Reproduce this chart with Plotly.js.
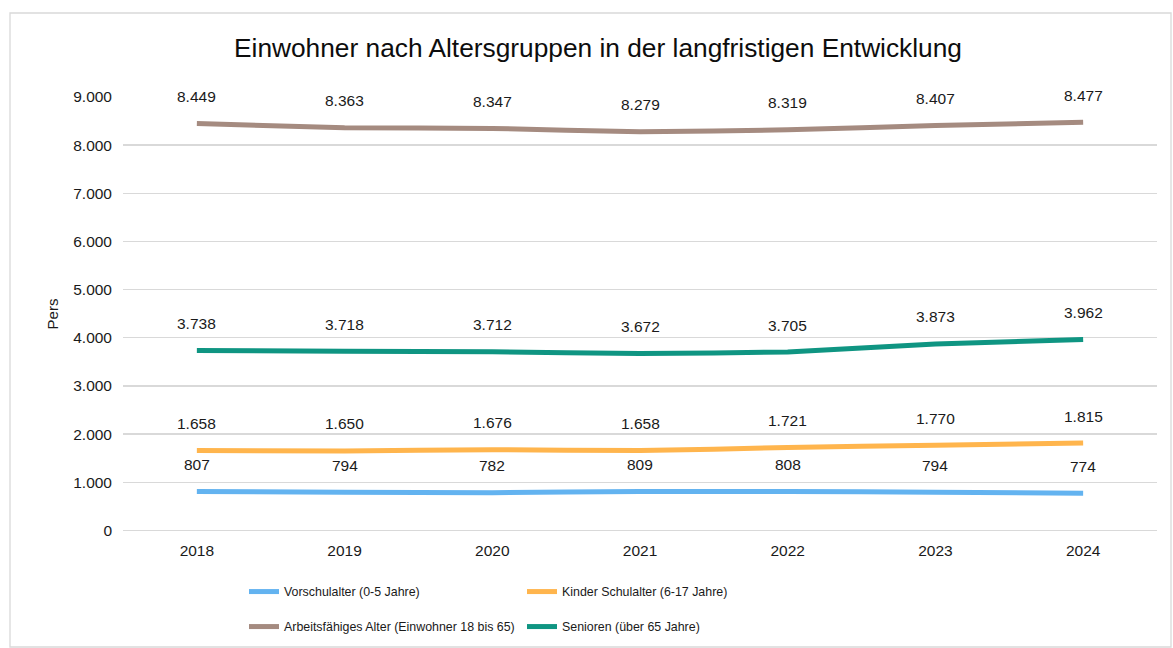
<!DOCTYPE html>
<html>
<head>
<meta charset="utf-8">
<script src="https://cdn.plot.ly/plotly-3.0.1.min.js"></script>
<style>html,body{margin:0;padding:0;background:#fff;}#chart{width:1173px;height:648px;}</style>
</head>
<body>
<div id="chart"></div>
<script>
const years = ['2018', '2019', '2020', '2021', '2022', '2023', '2024'];
const vorschulalter = [807, 794, 782, 809, 808, 794, 774];
const kinderSchulalter = [1658, 1650, 1676, 1658, 1721, 1770, 1815];
const arbeitsfaehig = [8449, 8363, 8347, 8279, 8319, 8407, 8477];
const senioren = [3738, 3718, 3712, 3672, 3705, 3873, 3962];
const seriesNames = ['Vorschulalter (0-5 Jahre)', 'Kinder Schulalter (6-17 Jahre)', 'Arbeitsfähiges Alter (Einwohner 18 bis 65)', 'Senioren (über 65 Jahre)'];
const yTicks = [0, 1000, 2000, 3000, 4000, 5000, 6000, 7000, 8000, 9000];

const colors = ['#63b3f0', '#ffb54d', '#a58b80', '#0f9582'];
const seriesData = [vorschulalter, kinderSchulalter, arbeitsfaehig, senioren];
const legendIds = ['legend', 'legend', 'legend2', 'legend2'];
const FONT = 'Liberation Sans, Arial, sans-serif';

function fmt(v) { return String(v).replace(/\B(?=(\d{3})+(?!\d))/g, '.'); }

const traces = seriesData.map((d, i) => ({
  type: 'scatter', mode: 'lines', x: years, y: d, name: seriesNames[i],
  line: {color: colors[i], width: 5, shape: 'spline', smoothing: 0.4},
  legend: legendIds[i], hoverinfo: 'x+y+name'
}));

const annotations = [];
seriesData.forEach(d => {
  d.forEach((v, j) => {
    annotations.push({x: j, y: v, xref: 'x', yref: 'y', text: fmt(v), showarrow: false,
      yshift: 27, font: {family: FONT, size: 15.5, color: '#1a1a1a'}});
  });
});

const W = 1173, H = 648, L = 123, R = 16, T = 97, B = 117;
const pw = W - L - R, ph = H - T - B;
const px = x => (x - L) / pw;
const py = y => (H - B - y) / ph;

const legendCommon = {orientation: 'h', xref: 'container', yref: 'container', xanchor: 'left', yanchor: 'middle',
  entrywidth: 233, entrywidthmode: 'pixels', font: {family: FONT, size: 12.4, color: '#1a1a1a'},
  bgcolor: 'rgba(0,0,0,0)', tracegroupgap: 0};

const layout = {
  width: W, height: H,
  margin: {l: L, r: R, t: T, b: B},
  paper_bgcolor: '#ffffff', plot_bgcolor: '#ffffff',
  separators: ',.',
  font: {family: FONT, size: 15, color: '#1a1a1a'},
  title: {text: 'Einwohner nach Altersgruppen in der langfristigen Entwicklung',
    font: {family: FONT, size: 26.3, color: '#0d0d0d'}, x: 598 / W, xref: 'container', xanchor: 'center', y: 1 - 48 / H, yanchor: 'middle'},
  xaxis: {type: 'category', showgrid: false, zeroline: false, showline: false, ticks: '', automargin: false,
    tickfont: {family: FONT, size: 15.5, color: '#1a1a1a'}, range: [-0.5, 6.5], ticklabelstandoff: 8},
  yaxis: {range: [-12, 9000], tickvals: yTicks, tickformat: ',d', showgrid: true, gridcolor: '#d9d9d9', gridwidth: 1.4,
    zeroline: true, zerolinecolor: '#d9d9d9', zerolinewidth: 1.4, showline: false, ticks: '', automargin: false,
    tickfont: {family: FONT, size: 15.5, color: '#1a1a1a'}, ticklabelstandoff: 10,
    title: {text: 'Pers', font: {family: FONT, size: 15, color: '#1a1a1a'}, standoff: 10}},
  showlegend: true,
  legend: Object.assign({}, legendCommon, {x: 244 / W, y: 1 - 592 / H}),
  legend2: Object.assign({}, legendCommon, {x: 244 / W, y: 1 - 627 / H}),
  annotations: annotations,
  shapes: [{type: 'rect', xref: 'paper', yref: 'paper', x0: px(10), x1: px(1171), y0: py(647), y1: py(13),
    line: {color: '#d9d9d9', width: 1.3}, fillcolor: 'rgba(0,0,0,0)', layer: 'below'}]
};

Plotly.newPlot('chart', traces, layout, {displayModeBar: false, staticPlot: true});
</script>
</body>
</html>
